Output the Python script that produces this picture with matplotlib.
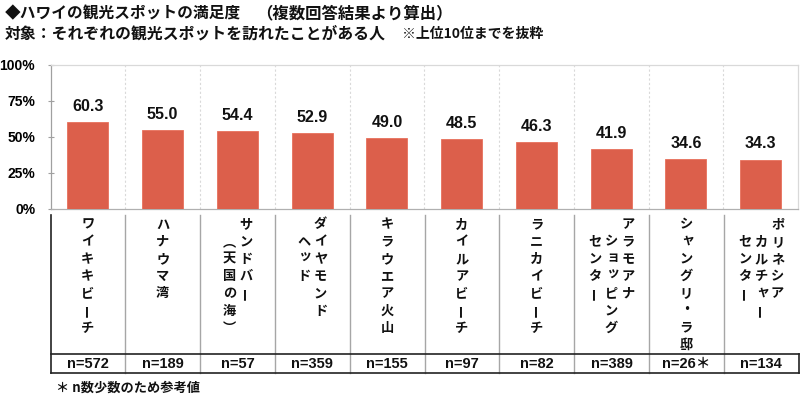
import matplotlib
matplotlib.use("Agg")
import matplotlib.pyplot as plt

# ---- data ----
categories = [
    "ワイキキビーチ",
    "ハナウマ湾",
    "サンドバー\n（天国の海）",
    "ダイヤモンド\nヘッド",
    "キラウエア火山",
    "カイルアビーチ",
    "ラニカイビーチ",
    "アラモアナ\nショッピング\nセンター",
    "シャングリ・ラ邸",
    "ポリネシア\nカルチャー\nセンター",
]
values = [60.3, 55.0, 54.4, 52.9, 49.0, 48.5, 46.3, 41.9, 34.6, 34.3]
n_labels = ["n=572", "n=189", "n=57", "n=359", "n=155", "n=97", "n=82",
            "n=389", "n=26＊", "n=134"]
yticks = [0, 25, 50, 75, 100]
ytick_labels = ["0%", "25%", "50%", "75%", "100%"]
title1a = "◆ハワイの観光スポットの満足度"
title1b = "（複数回答結果より算出）"
title2a = "対象：それぞれの観光スポットを訪れたことがある人"
title2b = "※上位10位までを抜粋"
footnote = "＊ n数少数のため参考値"

JP = ["Noto Sans CJK JP", "DejaVu Sans"]
LAT = ["Liberation Sans", "Noto Sans CJK JP", "DejaVu Sans"]
BAR = "#DC5F4B"

W, H = 800, 396
fig = plt.figure(figsize=(W / 100, H / 100), dpi=100)

def rect(x0, y0, x1, y1):
    return [x0 / W, 1 - y1 / H, (x1 - x0) / W, (y1 - y0) / H]

# ---- main bar axes ----
ax = fig.add_axes(rect(50.5, 65, 798, 209))
x = list(range(len(values)))
ax.bar(x, values, width=0.55, color=BAR, edgecolor="#E8705C", linewidth=0.6, zorder=3)
ax.set_xlim(-0.5, len(values) - 0.5)
ax.set_ylim(0, 100)
ax.set_yticks(yticks)
ax.set_yticklabels(ytick_labels, family=LAT, fontweight="bold", fontsize=10)
ax.tick_params(axis="y", direction="inout", length=4, width=0.8, color="#a0a0a0", pad=9)
ax.set_xticks([])
for i in range(len(values) - 1):
    ax.axvline(i + 0.5, color="#d9d9d9", linestyle=(0, (2, 2)), linewidth=0.8, zorder=1)
ax.spines["top"].set_color("#d9d9d9")
ax.spines["right"].set_color("#d9d9d9")
ax.spines["left"].set_color("#a0a0a0")
ax.spines["bottom"].set_color("#b0b0b0")
for s in ax.spines.values():
    s.set_linewidth(0.9)
for xi, v in zip(x, values):
    ax.annotate(f"{v:.1f}", (xi, v), xytext=(0, 8), textcoords="offset points",
                ha="center", va="baseline", fontsize=11.5, fontweight="bold",
                family=LAT, color="#111111")

# ---- table axes ----
TOP, HLINE, BOT = 215, 354, 372.5
tx = fig.add_axes(rect(50.5, TOP, 798.5, BOT + 0.5))
tx.set_xlim(-0.5, len(values) - 0.5)
tx.set_ylim(BOT + 0.5, TOP)
tx.axis("off")
px = (798.5 - 50.5) / len(values)  # pixels per category

for i in range(len(values) - 1):
    tx.plot([i + 0.5, i + 0.5], [TOP, BOT], color="#a6a6a6", linewidth=1.0, clip_on=False)
tx.plot([-0.5, -0.5], [TOP, BOT], color="#222222", linewidth=1.2, clip_on=False)
tx.plot([-0.5, len(values) - 0.5], [HLINE, HLINE], color="#222222", linewidth=1.2, clip_on=False)
tx.plot([-0.5, len(values) - 0.5], [BOT, BOT], color="#222222", linewidth=1.2, clip_on=False)
tx.plot([len(values) - 0.5] * 2, [HLINE, BOT], color="#222222", linewidth=1.2, clip_on=False)

ROW0, PITCH, COLP = 224.5, 17.2, 16.5
small = set("ッャュョァィゥェォ")
for i, cat in enumerate(categories):
    cols = cat.split("\n")
    k = len(cols)
    for c, col in enumerate(cols):
        dx = ((k - 1) / 2 - c) * COLP
        start = 0 if c == 0 else 1
        for r, ch in enumerate(col):
            yy = ROW0 + (start + r) * PITCH
            xx = dx
            rot = 0
            if ch == "ー":
                rot = 90
            elif ch == "（":
                ch = "︵"
            elif ch == "）":
                ch = "︶"
            if ch in small:
                xx += 2
                yy -= 2
            tx.text(i + xx / px, yy, ch, ha="center", va="center", rotation=rot,
                    rotation_mode="anchor", fontsize=9.5, fontweight="bold",
                    family=JP, color="#111111")

for i, lab in enumerate(n_labels):
    tx.text(i, (HLINE + BOT) / 2 + 0.5, lab, ha="center", va="center", fontsize=10.5,
            fontweight="bold", family=LAT, color="#111111")

# ---- titles ----
fig.text(5 / W, 1 - 13 / H, title1a, ha="left", va="center", fontsize=11.3,
         fontweight="bold", family=JP, color="#111111")
fig.text(256 / W, 1 - 13 / H, title1b, ha="left", va="center", fontsize=11.8,
         fontweight="bold", family=JP, color="#111111")
fig.text(5 / W, 1 - 34 / H, title2a, ha="left", va="center", fontsize=11.4,
         fontweight="bold", family=JP, color="#111111")
fig.text(402 / W, 1 - 34 / H, title2b, ha="left", va="center", fontsize=10,
         fontweight="bold", family=JP, color="#111111")
fig.text(56 / W, 1 - 388 / H, footnote, ha="left", va="center", fontsize=9.5,
         fontweight="bold", family=JP, color="#111111")

fig.savefig("out.png", dpi=100, facecolor="white")
